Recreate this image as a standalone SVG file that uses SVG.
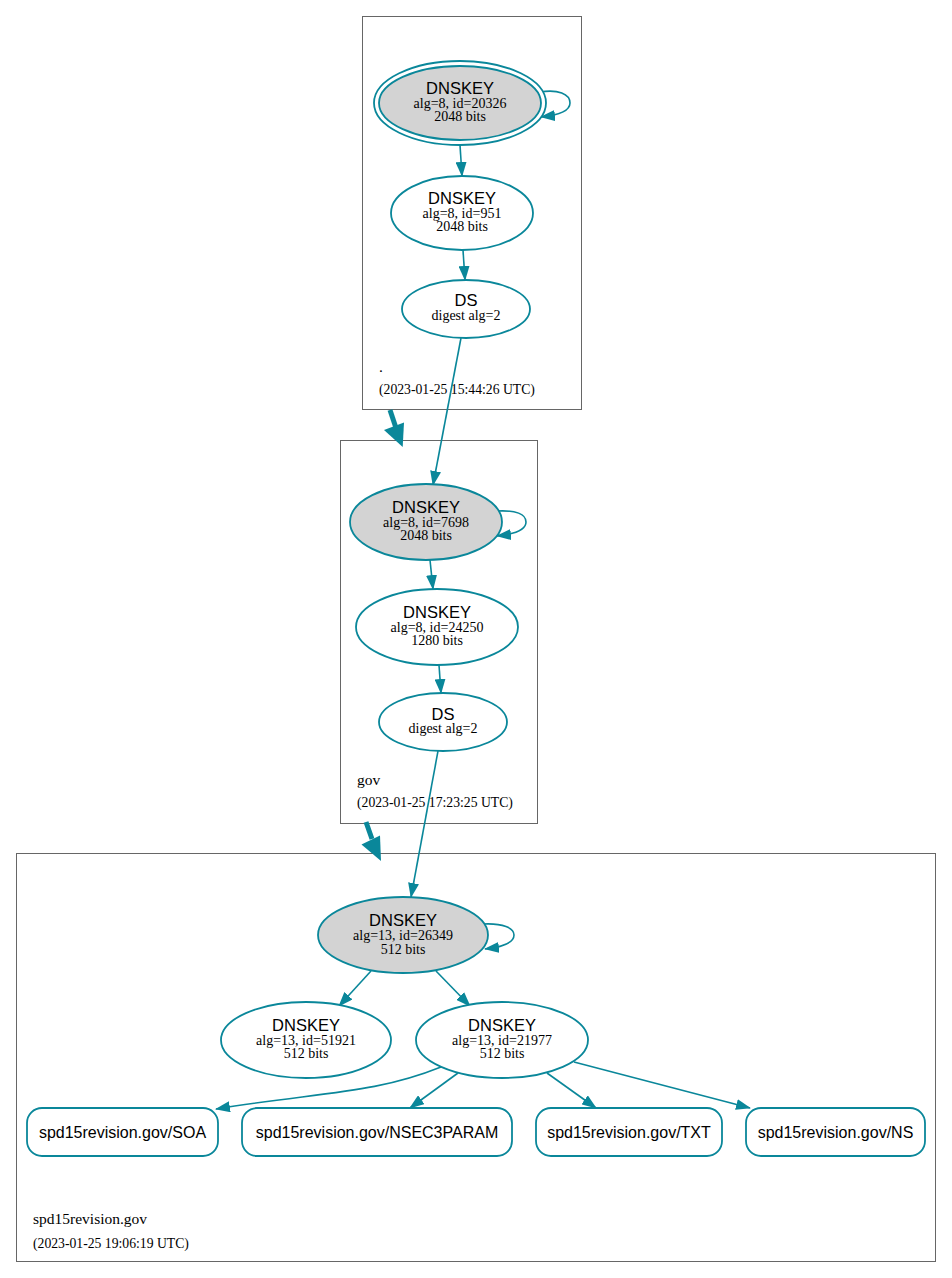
<svg xmlns="http://www.w3.org/2000/svg" width="952" height="1278" viewBox="0 0 952 1278">
<defs>
<marker id="ah" viewBox="0 0 15 11" refX="14" refY="5.5" markerWidth="15" markerHeight="11" markerUnits="userSpaceOnUse" orient="auto">
<path d="M0,0 L15,5.5 L0,11 z" fill="#0a879a"/>
</marker>
</defs>
<style>
.cl{fill:#fff;stroke:#666;stroke-width:1}
.nd{fill:#fff;stroke:#0a879a;stroke-width:1.8}
.ks{fill:#d3d3d3;stroke:#0a879a;stroke-width:1.8}
.e{fill:none;stroke:#0a879a;stroke-width:1.6;marker-end:url(#ah)}
.big{fill:none;stroke:#0a879a;stroke-width:5}
.t1{font-family:"Liberation Sans",Arial,sans-serif;font-size:16.5px;text-anchor:middle;fill:#000}
.t3{font-family:"Liberation Sans",Arial,sans-serif;font-size:16px;text-anchor:middle;fill:#000}
.t2{font-family:"Liberation Serif","Times New Roman",serif;font-size:14px;text-anchor:middle;fill:#000}
.zn{font-family:"Liberation Serif","Times New Roman",serif;font-size:15.5px;fill:#000}
.zd{font-family:"Liberation Serif","Times New Roman",serif;font-size:13.7px;fill:#000}
</style>
<rect width="952" height="1278" fill="#fff"/>
<g id="zone-root">
<rect class="cl" x="362.5" y="16.5" width="219" height="393"/>
<text class="zn" x="379" y="372">.</text>
<text class="zd" x="379" y="394">(2023-01-25 15:44:26 UTC)</text>
</g>
<g id="zone-gov">
<rect class="cl" x="340.5" y="440.5" width="197" height="383"/>
<text class="zn" x="357" y="785">gov</text>
<text class="zd" x="357" y="807">(2023-01-25 17:23:25 UTC)</text>
</g>
<g id="zone-spd">
<rect class="cl" x="16.5" y="853.5" width="919" height="408"/>
<text class="zn" x="33" y="1224">spd15revision.gov</text>
<text class="zd" x="33" y="1248">(2023-01-25 19:06:19 UTC)</text>
</g>
<g id="connectors">
<path class="e" d="M460,145 L462,176"/>
<path class="e" d="M540,92 C558,89 570,94 570,103 C570,111 560,115 541,117"/>
<path class="e" d="M463,250 L465,280"/>
<path class="e" d="M461,338 L433,485"/>
<path class="big" d="M390,410 L396,428"/>
<polygon points="384,430 404,422.5 402.7,447" fill="#0a879a"/>
<path class="e" d="M497,511 C516,510 526,514 526,522 C526,530 516,534 497,536"/>
<path class="e" d="M430,560 L433,589"/>
<path class="e" d="M439,665 L441,693"/>
<path class="e" d="M438,751 L411,897"/>
<path class="big" d="M366,822 L372,839"/>
<polygon points="361.5,844.5 380,835.5 381,861" fill="#0a879a"/>
<path class="e" d="M483,924 C503,923 514,928 514,935 C514,943 503,947 485,949"/>
<path class="e" d="M371,971 L339,1006"/>
<path class="e" d="M436,971 L470,1006"/>
<path class="e" d="M441,1067 C374,1094 320,1092 216,1109"/>
<path class="e" d="M458,1073 L410,1108"/>
<path class="e" d="M547,1073 L596,1108"/>
<path class="e" d="M574,1062 L750,1108"/>
</g>
<g id="n-20326">
<ellipse class="nd" cx="460" cy="103" rx="86" ry="42"/>
<ellipse class="ks" cx="460" cy="103" rx="81" ry="37"/>
<text class="t1" x="460" y="94">DNSKEY</text>
<text class="t2" x="460" y="108">alg=8, id=20326</text>
<text class="t2" x="460" y="121">2048 bits</text>
</g>
<g id="n-951">
<ellipse class="nd" cx="462" cy="213" rx="71" ry="37"/>
<text class="t1" x="462" y="204">DNSKEY</text>
<text class="t2" x="462" y="218">alg=8, id=951</text>
<text class="t2" x="462" y="231">2048 bits</text>
</g>
<g id="n-ds-root">
<ellipse class="nd" cx="466" cy="309" rx="64" ry="29"/>
<text class="t1" x="466" y="306">DS</text>
<text class="t2" x="466" y="320">digest alg=2</text>
</g>
<g id="n-7698">
<ellipse class="ks" cx="426" cy="522" rx="76" ry="38"/>
<text class="t1" x="426" y="513">DNSKEY</text>
<text class="t2" x="426" y="527">alg=8, id=7698</text>
<text class="t2" x="426" y="540">2048 bits</text>
</g>
<g id="n-24250">
<ellipse class="nd" cx="437" cy="627" rx="81" ry="38"/>
<text class="t1" x="437" y="618">DNSKEY</text>
<text class="t2" x="437" y="632">alg=8, id=24250</text>
<text class="t2" x="437" y="645">1280 bits</text>
</g>
<g id="n-ds-gov">
<ellipse class="nd" cx="443" cy="722" rx="64" ry="29"/>
<text class="t1" x="443" y="720">DS</text>
<text class="t2" x="443" y="733">digest alg=2</text>
</g>
<g id="n-26349">
<ellipse class="ks" cx="403" cy="935" rx="85" ry="38"/>
<text class="t1" x="403" y="926">DNSKEY</text>
<text class="t2" x="403" y="940">alg=13, id=26349</text>
<text class="t2" x="403" y="954">512 bits</text>
</g>
<g id="n-51921">
<ellipse class="nd" cx="306" cy="1040" rx="85" ry="38"/>
<text class="t1" x="306" y="1031">DNSKEY</text>
<text class="t2" x="306" y="1045">alg=13, id=51921</text>
<text class="t2" x="306" y="1058">512 bits</text>
</g>
<g id="n-21977">
<ellipse class="nd" cx="502" cy="1040" rx="86" ry="38"/>
<text class="t1" x="502" y="1031">DNSKEY</text>
<text class="t2" x="502" y="1045">alg=13, id=21977</text>
<text class="t2" x="502" y="1058">512 bits</text>
</g>
<g id="n-soa">
<rect class="nd" x="27" y="1108" width="191" height="48" rx="15"/>
<text class="t3" x="122.5" y="1138">spd15revision.gov/SOA</text>
</g>
<g id="n-nsec3param">
<rect class="nd" x="242" y="1108" width="270" height="48" rx="15"/>
<text class="t3" x="377" y="1138">spd15revision.gov/NSEC3PARAM</text>
</g>
<g id="n-txt">
<rect class="nd" x="536" y="1108" width="186" height="48" rx="15"/>
<text class="t3" x="629" y="1138">spd15revision.gov/TXT</text>
</g>
<g id="n-ns">
<rect class="nd" x="746" y="1108" width="179" height="48" rx="15"/>
<text class="t3" x="835.5" y="1138">spd15revision.gov/NS</text>
</g>
</svg>
